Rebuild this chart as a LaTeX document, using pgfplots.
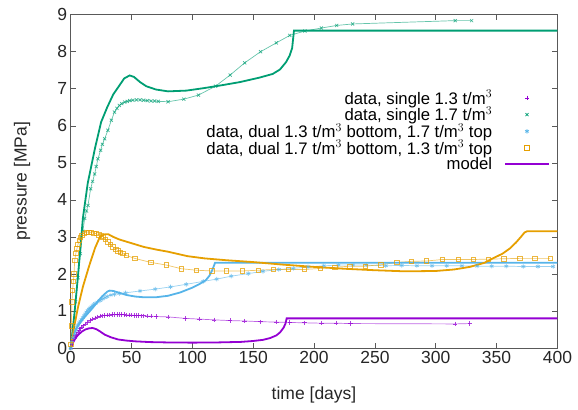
\documentclass[border=0pt]{standalone}
\usepackage{fontspec}
\setmainfont{Liberation Sans}
\usepackage{pgfplots}
\pgfplotsset{compat=1.18}
\definecolor{gpPurple}{HTML}{9400D3}
\definecolor{gpGreen}{HTML}{009E73}
\definecolor{gpBlue}{HTML}{56B4E9}
\definecolor{gpOrange}{HTML}{E69F00}
\newcommand{\tickfont}{\fontsize{17.5bp}{20bp}\selectfont}
\newcommand{\legfont}{\fontsize{16.7bp}{17bp}\selectfont}

\begin{document}
\begin{tikzpicture}
\begin{axis}[
  name=ax, scale only axis,
  width=486.7bp, height=333.3bp,
  xmin=0, xmax=400, ymin=0, ymax=9,
  xtick={0,50,...,400}, ytick={0,1,...,9},
  tick align=inside, major tick length=5bp,
  /pgf/number format/assume math mode=true,
  tick label style={font=\tickfont, color=black!85},
  label style={font=\tickfont, color=black!85},
  axis line style={black!65, line width=0.8bp},
  every tick/.style={black!65, line width=0.6bp},
  xlabel={time [days]}, ylabel={pressure [MPa]},
  xlabel style={at={(axis description cs:0.5,-0.14)}, anchor=center},
  ylabel style={at={(axis description cs:-0.1,0.5)}, anchor=center},
  legend style={at={(0.985,0.78)}, anchor=north east, draw=none, fill=none,
    font=\legfont, row sep=-2.75bp, inner sep=0pt,
    /tikz/every odd column/.append style={column sep=10bp}},
  legend cell align=right, legend plot pos=right,
  legend image code/.code={\draw[#1] (0bp,0bp) -- (44bp,0bp);},
  legmark/.style={only marks, mark size=2.2bp,
    mark options={solid, line width=0.7bp},
    legend image code/.code={\draw[##1] plot coordinates {(22bp,0bp)};}},
  data/.style={line width=0.7bp, draw opacity=0.6, mark size=2.2bp,
    mark options={solid, line width=0.7bp, opacity=0.75}},
  model/.style={line width=1.8bp},
]
% data, single 1.3
\addplot[data, color=gpPurple, mark=+, forget plot] coordinates {
(0,0)(1,0.1)(2,0.2)(3,0.27)(4,0.33)(5,0.38)(6,0.43)(7,0.48)(8,0.52)(9,0.56)
(10,0.6)(12,0.65)(14,0.7)(16,0.74)(18,0.78)(20,0.81)(22,0.84)(24,0.86)(26,0.87)
(28,0.88)(30,0.89)(32,0.89)(34,0.9)(36,0.9)(38,0.9)(40,0.9)(42,0.9)(44,0.9)
(46,0.89)(48,0.89)(50,0.89)(52,0.88)(54,0.88)(56,0.88)(58,0.87)(60,0.87)
(63,0.86)(66,0.86)(70,0.85)(80,0.84)(94,0.8)(106,0.78)(118,0.76)(131,0.74)
(143,0.73)(156,0.71)(169,0.7)(180,0.69)(192,0.68)(206,0.67)(218,0.67)(230,0.66)
(316,0.65)(328,0.66)};
% data, single 1.7
\addplot[data, color=gpGreen, mark=x, forget plot] coordinates {
(0,0)(2,0.6)(4,1.25)(6,1.9)(8,2.55)(10,3.15)(11.5,3.5)(13,3.7)(14.2,3.85)
(16.4,4.3)(18,4.5)(19.7,4.7)(21,4.9)(22.4,5.11)(24.6,5.34)(26,5.5)(27.9,5.65)
(30.6,5.88)(33.4,6.15)(36,6.37)(38,6.47)(40,6.55)(42,6.6)(44.4,6.64)(46.5,6.66)
(48.5,6.68)(51,6.69)(54,6.7)(57,6.7)(60,6.69)(63,6.68)(66,6.67)(69,6.67)
(72,6.66)(80,6.65)(93,6.72)(105,6.83)(119,7.07)(131,7.37)(143,7.7)(156,8.0)
(169,8.24)(180,8.44)(192.5,8.56)(206,8.64)(218.6,8.71)(231.7,8.75)(316,8.84)
(329.5,8.84)};
% data, dual 1.3 bottom
\addplot[data, color=gpBlue, mark=asterisk, forget plot] coordinates {
(0,0)(1,0.15)(2,0.28)(3,0.38)(4,0.47)(5,0.55)(6,0.62)(7,0.68)(8,0.73)(9,0.77)
(10,0.82)(11,0.87)(12,0.92)(13,0.97)(14,1.01)(15,1.05)(16,1.08)(17,1.11)
(18,1.14)(19,1.17)(20,1.2)(22,1.24)(24,1.28)(26,1.32)(28,1.36)(30,1.39)
(33,1.43)(36,1.45)(40,1.47)(45,1.49)(57,1.54)(69.5,1.59)(82,1.65)(95,1.72)
(109,1.8)(120,1.86)(132,1.94)(146,2.01)(158,2.07)(171,2.12)(183,2.15)
(195,2.19)(208,2.22)(220,2.24)(232,2.24)(243,2.24)(259,2.22)(272,2.23)
(284.5,2.22)(297,2.22)(309,2.22)(321.5,2.22)(334,2.21)(346,2.21)(358,2.21)
(372,2.2)(384,2.2)(396.5,2.2)};
% data, dual 1.7 bottom
\addplot[data, color=gpOrange, mark=square, forget plot] coordinates {
(0,0.1)(0.5,0.6)(1,1.25)(1.6,1.56)(2.2,1.8)(2.7,2.0)(3.3,2.37)(4.2,2.55)
(5.2,2.69)(6,2.8)(7,2.91)(8,2.98)(9.3,3.05)(11,3.1)(12.8,3.13)(15,3.13)
(17,3.12)(19,3.1)(21,3.09)(23,3.06)(25,3.03)(26.5,3.0)(28.5,2.94)(30.6,2.87)
(32.5,2.8)(34.8,2.73)(37,2.67)(38.9,2.62)(41,2.58)(43,2.55)(45.7,2.5)
(52.6,2.42)(66,2.31)(78.6,2.24)(91,2.14)(103.5,2.1)(116,2.08)(128,2.08)
(141,2.08)(154,2.1)(166.5,2.12)(179,2.12)(192,2.12)(205,2.15)(217,2.18)
(229.5,2.21)(242,2.21)(255,2.25)(268,2.31)(280,2.34)(292.5,2.35)(305.6,2.39)
(318.5,2.39)(330.8,2.39)(343,2.4)(356,2.41)(369,2.42)(381.5,2.42)(394,2.42)};
% models
\addplot[model, color=gpPurple, forget plot] coordinates {
(0,0)(2,0.15)(4,0.27)(6,0.35)(9,0.44)(12,0.5)(15,0.53)(18,0.54)(21,0.51)
(24,0.45)(28,0.36)(33,0.29)(39,0.23)(46,0.2)(53,0.18)(65,0.16)(80,0.15)
(100,0.145)(120,0.15)(140,0.165)(150,0.19)(158,0.22)(164,0.27)(169,0.34)
(172,0.42)(175,0.55)(176.5,0.66)(177.5,0.8)(400,0.8)};
\addplot[model, color=gpGreen, forget plot] coordinates {
(0,0)(3,0.9)(6,1.95)(10,3.5)(14,4.45)(20,5.4)(25,6.1)(30,6.5)(35,6.85)
(39,7.04)(44,7.28)(48.5,7.36)(52,7.32)(57,7.18)(62,7.07)(70,6.98)(80,6.93)
(95,6.95)(110,7.02)(125,7.1)(139,7.18)(155,7.3)(166,7.4)(172,7.52)(177,7.72)
(180,7.9)(182,8.1)(183.5,8.57)(400,8.57)};
\addplot[model, color=gpBlue, forget plot] coordinates {
(0,0)(1,0.2)(3,0.42)(6,0.6)(10,0.78)(14,0.93)(18,1.08)(22,1.25)(26,1.4)
(30,1.52)(32,1.55)(35,1.54)(40,1.49)(46,1.43)(53,1.39)(60,1.37)(70,1.37)
(80,1.41)(90,1.5)(100,1.63)(106,1.73)(111,1.83)(114,1.95)(116,2.08)
(117.5,2.2)(118.6,2.3)(400,2.3)};
\addplot[model, color=gpOrange, forget plot] coordinates {
(0,0)(3,0.6)(6,1.1)(10,1.65)(15,2.2)(20,2.7)(24,3.0)(28,3.07)(31,3.07)
(35,3.0)(40,2.93)(50,2.83)(60,2.73)(70,2.66)(80,2.6)(96,2.48)(110,2.42)
(128,2.37)(150,2.32)(175,2.25)(200,2.19)(225,2.14)(250,2.1)(275,2.07)
(300,2.08)(315,2.12)(328,2.19)(340,2.3)(347,2.42)(355,2.55)(361,2.69)
(366,2.85)(370,3.0)(373,3.12)(375,3.15)(400,3.15)};
% legend
\addlegendimage{legmark, color=gpPurple, mark=+}
\addlegendentry{data, single 1.3 t/m$^3$}
\addlegendimage{legmark, color=gpGreen, mark=x}
\addlegendentry{data, single 1.7 t/m$^3$}
\addlegendimage{legmark, color=gpBlue, mark=asterisk}
\addlegendentry{data, dual 1.3 t/m$^3$ bottom, 1.7 t/m$^3$ top}
\addlegendimage{legmark, color=gpOrange, mark=square}
\addlegendentry{data, dual 1.7 t/m$^3$ bottom, 1.3 t/m$^3$ top}
\addlegendimage{color=gpPurple, line width=1.8bp}
\addlegendentry{model}
\end{axis}
\pgfresetboundingbox
\path ([xshift=-70.7bp,yshift=-61bp]ax.south west) rectangle ([xshift=20.6bp,yshift=14.7bp]ax.north east);
\end{tikzpicture}
\end{document}
